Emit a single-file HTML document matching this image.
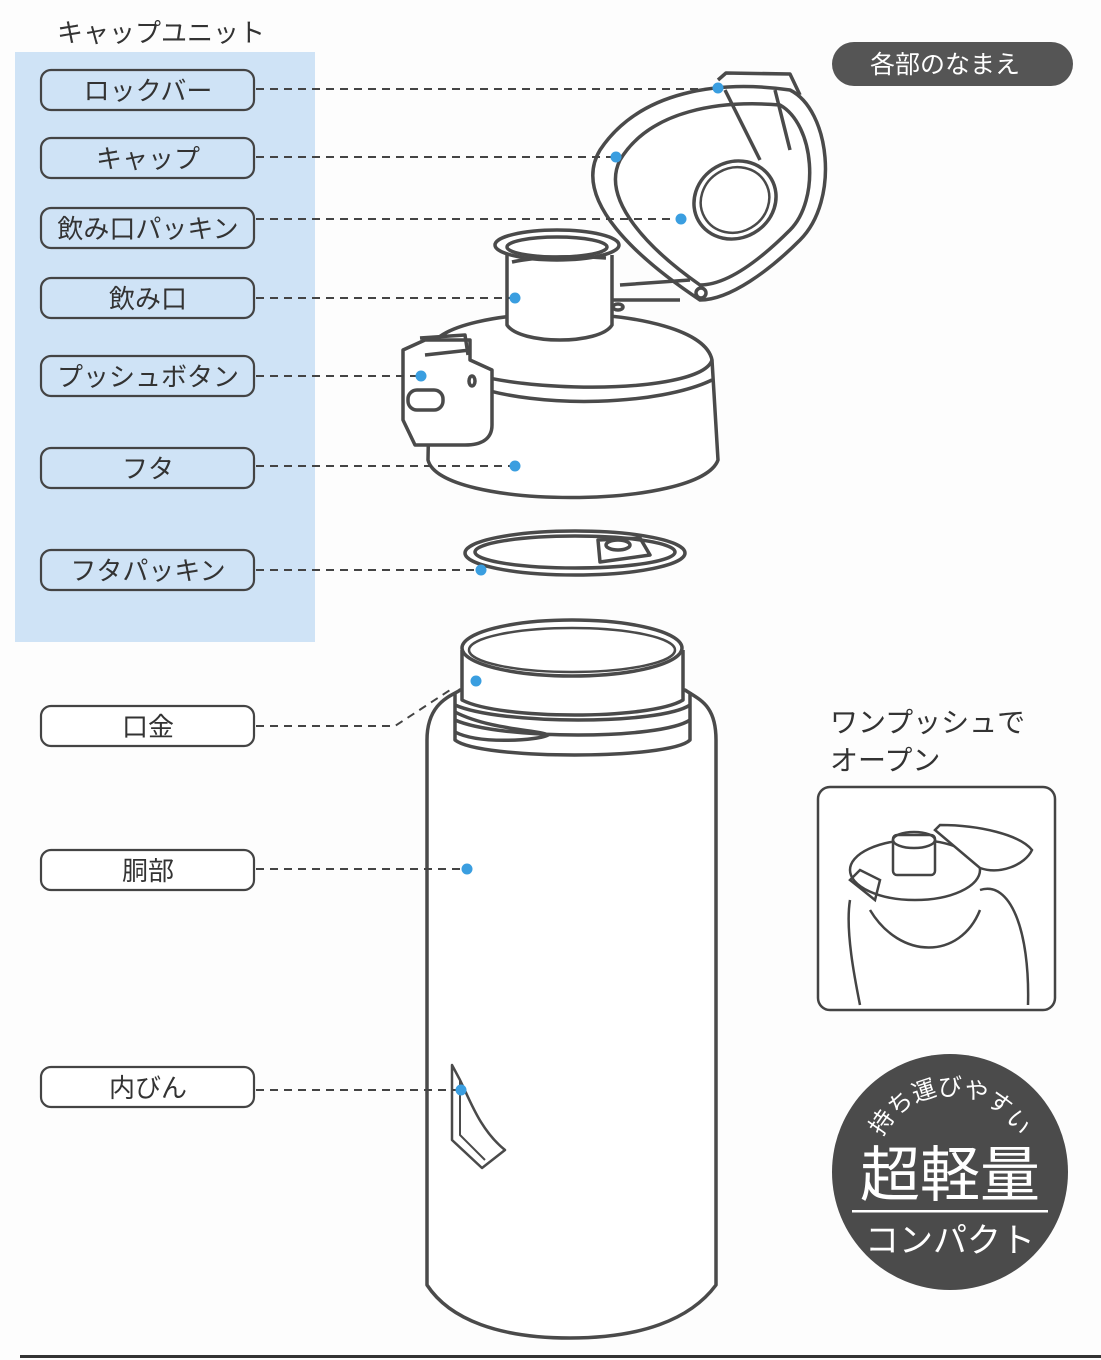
<!DOCTYPE html>
<html><head><meta charset="utf-8"><style>
html,body{margin:0;padding:0;background:#fdfdfd;}
svg{display:block;}
text{font-family:"Liberation Sans","Noto Sans CJK JP",sans-serif;}
</style></head><body>
<svg width="1101" height="1360" viewBox="0 0 1101 1360" xmlns="http://www.w3.org/2000/svg">
<defs><path id="arc" d="M875 1170 A75 75 0 0 1 1025 1170"/></defs>
<rect x="15" y="52" width="300" height="590" fill="#cfe3f6"/>
<text x="57" y="42" font-size="26" fill="#333">キャップユニット</text>
<g fill="none" stroke="#444" stroke-width="2.2">
<rect x="41" y="70" width="213" height="40" rx="10"/>
<rect x="41" y="138" width="213" height="40" rx="10"/>
<rect x="41" y="208" width="213" height="40" rx="10"/>
<rect x="41" y="278" width="213" height="40" rx="10"/>
<rect x="41" y="356" width="213" height="40" rx="10"/>
<rect x="41" y="448" width="213" height="40" rx="10"/>
<rect x="41" y="550" width="213" height="40" rx="10"/>
<rect x="41" y="706" width="213" height="40" rx="10" fill="#fff"/>
<rect x="41" y="850" width="213" height="40" rx="10" fill="#fff"/>
<rect x="41" y="1067" width="213" height="40" rx="10" fill="#fff"/>
</g>
<g font-size="26" fill="#333" text-anchor="middle">
<text x="148" y="100">ロックバー</text>
<text x="148" y="168">キャップ</text>
<text x="148" y="238">飲み口パッキン</text>
<text x="148" y="308">飲み口</text>
<text x="148" y="386">プッシュボタン</text>
<text x="148" y="478">フタ</text>
<text x="148" y="580">フタパッキン</text>
<text x="148" y="736">口金</text>
<text x="148" y="880">胴部</text>
<text x="148" y="1097">内びん</text>
</g>
<g fill="none" stroke="#4a4a4a" stroke-width="3.5" stroke-linejoin="round">
<path d="M700 300 C640 260 570 200 600 150 C640 90 720 80 790 90 C830 110 840 200 800 240 C770 270 730 300 700 300Z" fill="#fff"/>
<path d="M700 285 C650 250 600 200 620 160 C650 110 720 100 780 105 C815 125 820 200 790 230 C765 255 730 285 700 285Z"/>
<ellipse cx="735" cy="200" rx="42" ry="38" transform="rotate(-30 735 200)"/>
<ellipse cx="735" cy="200" rx="35" ry="32" transform="rotate(-30 735 200)" stroke-width="2.5"/>
<path d="M718 80 L726 73 L790 74 L800 95"/><path d="M725 90 L760 160 M775 90 L790 150"/>
<circle cx="701" cy="293" r="5"/>
<path d="M430 350 C440 300 700 300 712 360 L718 460 C700 510 440 510 428 460Z" fill="#fff"/>
<path d="M430 350 C450 395 700 400 712 360"/>
<path d="M470 385 C540 410 660 405 712 380"/>
<path d="M507 255 L507 325 C520 345 600 345 612 325 L612 255" fill="#fff"/>
<ellipse cx="557" cy="245" rx="62" ry="15" fill="#fff"/>
<ellipse cx="557" cy="247" rx="50" ry="10"/>
<path d="M512 262 C540 256 580 256 606 258"/>
<path d="M620 285 L690 280 M612 300 L680 300"/>
<ellipse cx="618" cy="307" rx="5" ry="3"/>
<path d="M425 340 L470 340 L470 360 L492 370 L492 425 C492 440 480 445 465 445 L415 445 L403 420 L403 350Z" fill="#fff"/>
<path d="M420 338 L465 335 L468 355 M425 355 L470 350"/>
<rect x="408" y="390" width="35" height="20" rx="9"/>
<ellipse cx="472" cy="381" rx="3" ry="5"/>
<ellipse cx="575" cy="553" rx="110" ry="22" fill="#fff"/>
<ellipse cx="575" cy="552" rx="100" ry="16"/>
<path d="M598 540 L640 538 L650 555 L600 562Z"/><ellipse cx="618" cy="545" rx="12" ry="5"/>
<path d="M427 740 C427 700 455 695 460 690 L685 690 C700 700 716 705 716 740 L716 1285 C690 1320 640 1338 570 1338 C500 1338 450 1320 427 1285Z" fill="#fff"/>
<path d="M455 692 L455 740 C480 760 670 760 690 740 L690 692"/>
<path d="M455 705 C500 725 660 725 690 705 M455 720 C500 740 660 740 690 720 M455 732 C480 745 540 740 548 735 C540 730 490 730 455 712"/>
<path d="M462 650 L462 700 C500 720 650 720 683 700 L683 650" fill="#fff"/>
<ellipse cx="572" cy="648" rx="110" ry="28" fill="#fff"/>
<ellipse cx="572" cy="650" rx="103" ry="22" stroke-width="2.5"/>
<path d="M452 1065 L452 1140 L482 1168 L505 1150 C480 1130 470 1100 460 1080Z" stroke-width="2.5"/>
<path d="M460 1080 L460 1135 L485 1160" stroke-width="2"/>
</g>
<g fill="none" stroke="#444" stroke-width="2" stroke-dasharray="8,6">
<path d="M256 89H718"/><path d="M256 157H616"/><path d="M256 219H681"/>
<path d="M256 298H515"/><path d="M256 376H421"/><path d="M256 466H515"/>
<path d="M256 570H481"/><path d="M256 726H395L450 690"/>
<path d="M256 869H467"/><path d="M256 1090H461"/>
</g>
<g fill="#3a9ee0">
<circle cx="718" cy="88" r="5.5"/><circle cx="616" cy="157" r="5.5"/><circle cx="681" cy="219" r="5.5"/>
<circle cx="515" cy="298" r="5.5"/><circle cx="421" cy="376" r="5.5"/><circle cx="515" cy="466" r="5.5"/>
<circle cx="481" cy="570" r="5.5"/><circle cx="476" cy="681" r="5.5"/><circle cx="467" cy="869" r="5.5"/>
<circle cx="461" cy="1090" r="5.5"/>
</g>
<rect x="832" y="42" width="241" height="44" rx="22" fill="#555"/>
<text x="945" y="73" font-size="25" fill="#fff" text-anchor="middle">各部のなまえ</text>
<text x="830" y="732" font-size="28" fill="#333">ワンプッシュで</text>
<text x="830" y="770" font-size="28" fill="#333">オープン</text>
<rect x="818" y="787" width="237" height="223" rx="12" fill="#fff" stroke="#444" stroke-width="2.5"/>
<g fill="none" stroke="#444" stroke-width="2.5">
<ellipse cx="915" cy="870" rx="65" ry="30"/>
<rect x="893" y="835" width="42" height="40" rx="4" fill="#fff"/>
<ellipse cx="914" cy="840" rx="21" ry="8"/>
<path d="M935 830 L940 825 C980 825 1020 835 1032 850 C1025 865 1000 875 980 868 Z" fill="#fff"/>
<path d="M850 900 C845 930 855 980 860 1005 M980 890 C1010 880 1030 930 1028 1005 M870 910 C900 960 960 960 980 910"/>
<path d="M850 880 L860 870 L880 880 L875 900Z"/>
</g>
<circle cx="950" cy="1172" r="118" fill="#4b4b4b"/>
<text font-size="24" fill="#fff" text-anchor="middle"><textPath href="#arc" startOffset="50%">持ち運びやすい</textPath></text>
<text x="950" y="1196" font-size="60" fill="#fff" text-anchor="middle">超軽量</text>
<rect x="852" y="1210" width="196" height="2.5" fill="#fff"/>
<text x="950" y="1252" font-size="34" fill="#fff" text-anchor="middle">コンパクト</text>
<rect x="20" y="1355" width="1081" height="3" fill="#333"/>
</svg>
</body></html>
